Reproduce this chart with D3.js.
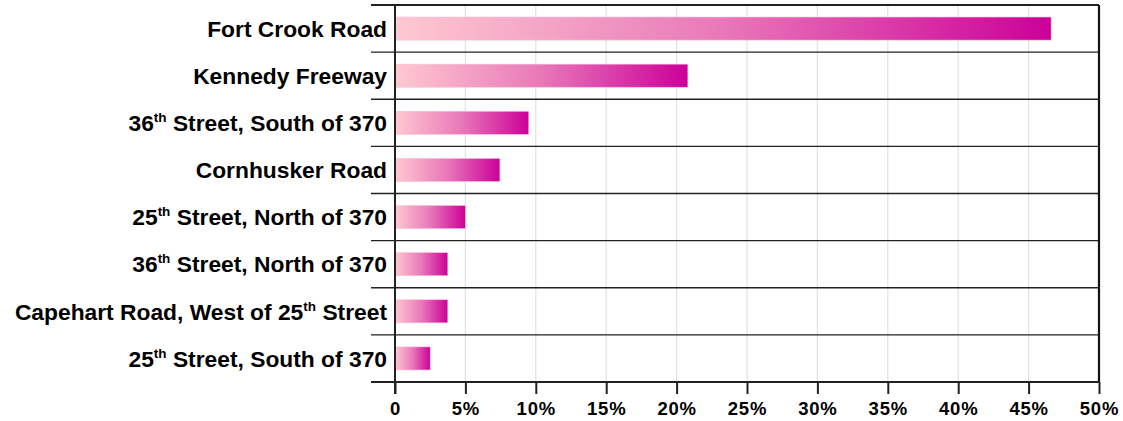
<!DOCTYPE html>
<html>
<head>
<meta charset="utf-8">
<script src="https://cdn.jsdelivr.net/npm/d3@7"></script>
<style>
  html, body { margin: 0; padding: 0; background: #fff; }
  svg { display: block; }
  text { font-family: "Liberation Sans", Arial, sans-serif; font-weight: bold; fill: #000; }
</style>
</head>
<body>
<svg id="chart" width="1123" height="421"></svg>
<script>
const categories = [
  "Fort Crook Road",
  "Kennedy Freeway",
  "36th Street, South of 370",
  "Cornhusker Road",
  "25th Street, North of 370",
  "36th Street, North of 370",
  "Capehart Road, West of 25th Street",
  "25th Street, South of 370"
];
const values = [46.6, 20.8, 9.5, 7.45, 5.0, 3.75, 3.75, 2.5];
const xTicks = [0, 5, 10, 15, 20, 25, 30, 35, 40, 45, 50];

const W = 1123, H = 421;
const margin = { top: 5, right: 24, bottom: 39, left: 395 };
const iw = W - margin.left - margin.right;
const ih = H - margin.top - margin.bottom;

const svg = d3.select("#chart");
const defs = svg.append("defs");
const grad = defs.append("linearGradient")
  .attr("id", "barGrad")
  .attr("x1", "0%").attr("x2", "100%").attr("y1", "0%").attr("y2", "0%");
grad.append("stop").attr("offset", "0%").attr("stop-color", "#ffc9d1");
grad.append("stop").attr("offset", "50%").attr("stop-color", "#e878b8");
grad.append("stop").attr("offset", "100%").attr("stop-color", "#cc0099");

const g = svg.append("g").attr("transform", `translate(${margin.left},${margin.top})`);

const x = d3.scaleLinear().domain([0, 50]).range([0, iw]);
const y = d3.scaleBand().domain(categories).range([0, ih]).paddingInner(0).paddingOuter(0);

// vertical gridlines
g.append("g")
  .selectAll("line")
  .data(xTicks.slice(1, -1))
  .join("line")
  .attr("x1", d => x(d)).attr("x2", d => x(d))
  .attr("y1", 0).attr("y2", ih)
  .attr("stroke", "#e2e2e2")
  .attr("stroke-width", 1.2);

// bars
const barH = y.bandwidth() * 0.49;
g.append("g")
  .selectAll("rect")
  .data(categories)
  .join("rect")
  .attr("x", x(0))
  .attr("y", d => y(d) + (y.bandwidth() - barH) / 2)
  .attr("width", (d, i) => x(values[i]) - x(0))
  .attr("height", barH)
  .attr("fill", "url(#barGrad)")
  .attr("stroke", "#f7bfd8")
  .attr("stroke-width", 0.6);

// row separators (y ticks extending across)
const bounds = categories.map(c => y(c)).concat([ih]);
g.append("g")
  .selectAll("line")
  .data(bounds.slice(1, -1))
  .join("line")
  .attr("x1", -24).attr("x2", iw)
  .attr("y1", d => d).attr("y2", d => d)
  .attr("stroke", "#222")
  .attr("stroke-width", 1.4);

// top border
g.append("line").attr("x1", -24).attr("x2", iw).attr("y1", 0).attr("y2", 0)
  .attr("stroke", "#222").attr("stroke-width", 2);
// right border
g.append("line").attr("x1", iw).attr("x2", iw).attr("y1", 0).attr("y2", ih)
  .attr("stroke", "#111").attr("stroke-width", 2.2);
// left axis line
g.append("line").attr("x1", 0).attr("x2", 0).attr("y1", 0).attr("y2", ih + 12)
  .attr("stroke", "#222").attr("stroke-width", 2);

// x axis
const xAxis = d3.axisBottom(x)
  .tickValues(xTicks)
  .tickSize(12)
  .tickSizeOuter(0)
  .tickFormat(d => d === 0 ? "0" : d + "%");
const xg = g.append("g").attr("transform", `translate(0,${ih})`).call(xAxis);
xg.select(".domain").attr("stroke", "#222").attr("stroke-width", 2).attr("d", `M${-24},0H${iw}`);
xg.selectAll(".tick line").attr("stroke", "#222").attr("stroke-width", 2);
xg.selectAll(".tick text")
  .attr("y", 20)
  .attr("dy", "0.71em")
  .style("font-family", "'Liberation Sans', Arial, sans-serif")
  .style("font-weight", "bold")
  .style("font-size", "18.5px")
  .style("letter-spacing", "0.8px")
  .attr("fill", "#000");

// y labels with superscripts
const labels = g.append("g");
categories.forEach(c => {
  const t = labels.append("text")
    .attr("x", -8)
    .attr("y", y(c) + y.bandwidth() / 2)
    .attr("dy", "0.36em")
    .attr("text-anchor", "end")
    .style("font-size", "22.8px");
  const parts = c.split(/(\d+th)/).filter(s => s.length);
  let raised = false;
  parts.forEach(p => {
    const m = p.match(/^(\d+)(th)$/);
    if (m) {
      const n = t.append("tspan").text(m[1]);
      if (raised) { n.attr("dy", "9"); raised = false; }
      t.append("tspan").text(m[2]).style("font-size", "13.5px").attr("dy", "-9");
      raised = true;
    } else {
      const n = t.append("tspan").text(p);
      if (raised) { n.attr("dy", "9"); raised = false; }
    }
  });
});
</script>
</body>
</html>
